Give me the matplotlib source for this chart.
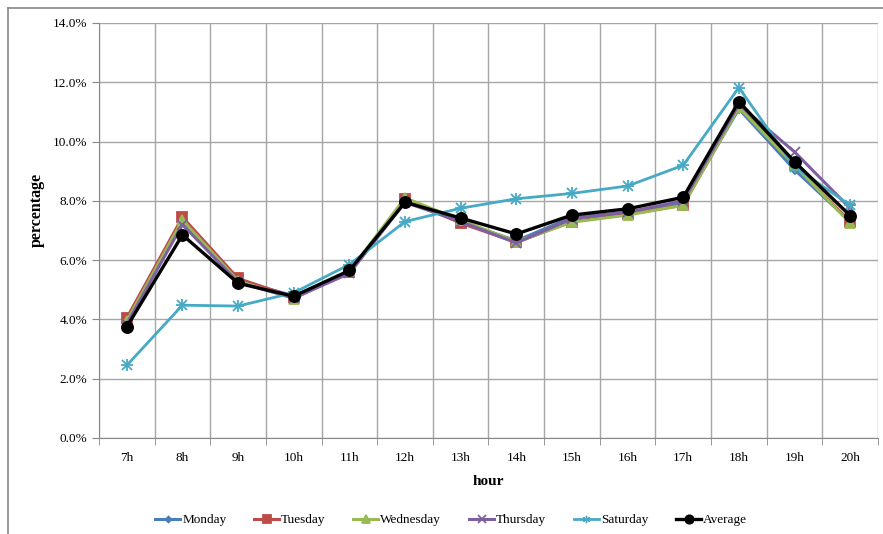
import matplotlib
matplotlib.use("Agg")
import matplotlib.pyplot as plt
import numpy as np
from matplotlib.ticker import FuncFormatter, FixedLocator
from matplotlib.lines import Line2D

hours = ["7h", "8h", "9h", "10h", "11h", "12h", "13h", "14h", "15h", "16h", "17h", "18h", "19h", "20h"]
monday = [3.90, 7.30, 5.30, 4.80, 5.60, 8.00, 7.30, 6.65, 7.45, 7.60, 7.90, 11.10, 9.05, 7.30]
tuesday = [4.05, 7.45, 5.38, 4.75, 5.60, 8.05, 7.25, 6.60, 7.30, 7.55, 7.85, 11.20, 9.20, 7.30]
wednesday = [3.95, 7.35, 5.30, 4.70, 5.62, 8.10, 7.35, 6.62, 7.28, 7.52, 7.85, 11.15, 9.20, 7.25]
thursday = [3.85, 7.20, 5.25, 4.72, 5.55, 7.95, 7.30, 6.58, 7.40, 7.62, 8.00, 11.25, 9.65, 7.75]
saturday = [2.45, 4.48, 4.45, 4.90, 5.85, 7.30, 7.75, 8.07, 8.25, 8.50, 9.20, 11.82, 9.15, 7.85]
average = [3.75, 6.85, 5.22, 4.78, 5.65, 7.95, 7.42, 6.88, 7.52, 7.73, 8.12, 11.35, 9.32, 7.50]

plt.rcParams['font.family'] = ['Liberation Serif', 'DejaVu Serif']

fig = plt.figure(figsize=(8.83, 5.34), dpi=100)
ax = fig.add_axes([0.1121, 0.1798, 0.8822, 0.7772])

x = np.arange(len(hours))
series = [
    ("Monday", monday, "#4A7EBB", "D", 4),
    ("Tuesday", tuesday, "#BE4B48", "s", 7),
    ("Wednesday", wednesday, "#98B954", "^", 7),
    ("Thursday", thursday, "#7D60A0", "x", 7),
    ("Saturday", saturday, "#46AAC5", "x", 8),
    ("Average", average, "black", "o", 8),
]
for name, vals, col, mk, ms in series:
    if name == "Saturday":
        ax.plot(x, vals, color=col, lw=2, marker="+", ms=9, mew=1.3, zorder=3)
        ax.plot(x, vals, color=col, lw=0, marker="x", ms=7, mew=1.3, zorder=3)
        ax.plot([], [], color=col, lw=2, marker=(6, 2, 0), ms=7, mew=1.0, label=name)
        continue
    ax.plot(x, vals, color=col, lw=2.2 if name != "Average" else 2.4, marker=mk, ms=ms,
            mew=1.3, label=name, zorder=4 if name == "Average" else 3)

ax.set_xlim(-0.5, len(hours) - 0.5)
ax.set_ylim(0, 14)
ax.set_yticks(np.arange(0, 14.01, 2))
ax.yaxis.set_major_formatter(FuncFormatter(lambda v, p: f"{v:.1f}%"))
ax.set_xticks(x)
ax.set_xticklabels(hours)
ax.xaxis.set_minor_locator(FixedLocator(np.arange(-0.5, len(hours), 1)))
ax.tick_params(axis='x', which='major', length=0, labelsize=9.5, pad=10)
ax.tick_params(axis='x', which='minor', length=5, color="#888888")
ax.tick_params(axis='y', which='major', length=5, color="#888888", labelsize=9.5)
ax.grid(True, axis='y', which='major', color="#a6a6a6", lw=1)
ax.grid(True, axis='x', which='minor', color="#a6a6a6", lw=1)
ax.grid(False, axis='x', which='major')
ax.set_axisbelow(True)
for s in ax.spines.values():
    s.set_color("#888888")
ax.spines['top'].set_visible(False)
ax.spines['right'].set_visible(False)

ax.set_xlabel("hour", fontsize=11, fontweight='bold', labelpad=8)
ax.set_ylabel("percentage", fontsize=11.5, fontweight='bold')
ax.yaxis.set_label_coords(-0.07, 0.55)

ax.legend(loc='upper center', bbox_to_anchor=(0.452, -0.155), ncol=6, frameon=False,
          fontsize=9.5, handlelength=1.9, columnspacing=2.1, handletextpad=0.15,
          markerscale=0.75)

fig.add_artist(Line2D([8 / 883, 8 / 883], [0, 1 - 7.5 / 534], transform=fig.transFigure,
                      color="#888888", lw=1.2))
fig.add_artist(Line2D([8 / 883, 1], [1 - 7.5 / 534, 1 - 7.5 / 534], transform=fig.transFigure,
                      color="#888888", lw=1.2))

fig.savefig("out.png", dpi=100)
